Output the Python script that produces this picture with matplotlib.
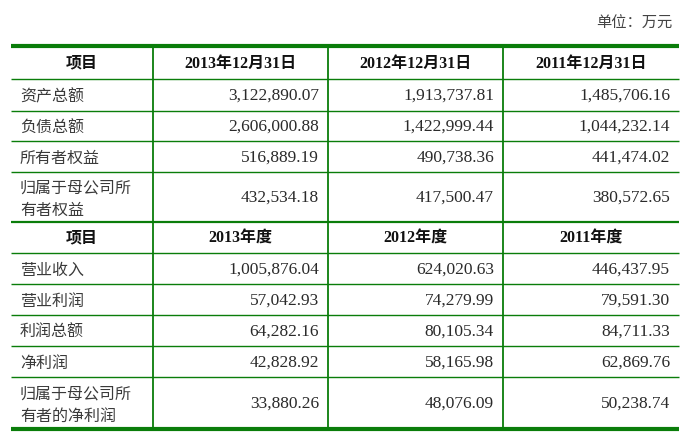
import matplotlib.pyplot as plt

plt.rcParams['font.family'] = ['Liberation Serif', 'Noto Sans CJK SC', 'DejaVu Sans']

# ---- data ----
unit_text = '单位：万元'
header1 = ['项目', '2013年12月31日', '2012年12月31日', '2011年12月31日']
header2 = ['项目', '2013年度', '2012年度', '2011年度']

items1 = ['资产总额', '负债总额', '所有者权益', '归属于母公司所\n有者权益']
vals1_2013 = ['3,122,890.07', '2,606,000.88', '516,889.19', '432,534.18']
vals1_2012 = ['1,913,737.81', '1,422,999.44', '490,738.36', '417,500.47']
vals1_2011 = ['1,485,706.16', '1,044,232.14', '441,474.02', '380,572.65']

items2 = ['营业收入', '营业利润', '利润总额', '净利润', '归属于母公司所\n有者的净利润']
vals2_2013 = ['1,005,876.04', '57,042.93', '64,282.16', '42,828.92', '33,880.26']
vals2_2012 = ['624,020.63', '74,279.99', '80,105.34', '58,165.98', '48,076.09']
vals2_2011 = ['446,437.95', '79,591.30', '84,711.33', '62,869.76', '50,238.74']

# ---- layout (pixels) ----
W, H = 700, 444
green = '#0a7d0a'
txt = '#2a2a2a'
col_x = [11, 153, 328, 503, 679]
row_y = [46, 79, 111, 141, 172, 222, 253, 284, 315, 346, 377, 429]

fig = plt.figure(figsize=(W / 100, H / 100), dpi=100)
ax = fig.add_axes([0, 0, 1, 1])
ax.set_xlim(0, W)
ax.set_ylim(H, 0)
ax.axis('off')

ax.text(672, 23, unit_text, ha='right', va='center', fontsize=11,
        color='#444444', family=['Noto Sans CJK SC'])

# horizontal rules
for i, y in enumerate(row_y):
    if i == 0 or i == len(row_y) - 1:
        lw = 3.0
    elif i == 5:
        lw = 1.6
    else:
        lw = 1.0
    ax.plot([col_x[0], col_x[-1]], [y, y], color=green, lw=lw, solid_capstyle='butt')

# vertical rules
for x in col_x[1:-1]:
    ax.plot([x, x], [row_y[0], row_y[-1]], color=green, lw=1.3)


def header_row(labels, y0, y1):
    yc = (y0 + y1) / 2
    for j, lab in enumerate(labels):
        xc = (col_x[j] + col_x[j + 1]) / 2
        ax.text(xc, yc + 1, lab, ha='center', va='center', fontsize=11.5,
                fontweight='bold', color='#111111')


def body_rows(items, cols, start):
    for i, item in enumerate(items):
        y0, y1 = row_y[start + i], row_y[start + i + 1]
        yc = (y0 + y1) / 2
        ax.text(col_x[0] + 9, yc + 2, item, ha='left', va='center', fontsize=11.5,
                color='#3a3a3a', family=['Noto Sans CJK SC'], linespacing=1.4)
        for j, vals in enumerate(cols):
            ax.text(col_x[j + 2] - 9, yc + 1, vals[i], ha='right', va='center',
                    fontsize=12.5, color=txt)


header_row(header1, row_y[0], row_y[1])
body_rows(items1, [vals1_2013, vals1_2012, vals1_2011], 1)
header_row(header2, row_y[5], row_y[6])
body_rows(items2, [vals2_2013, vals2_2012, vals2_2011], 6)

fig.savefig('out.png', dpi=100)
